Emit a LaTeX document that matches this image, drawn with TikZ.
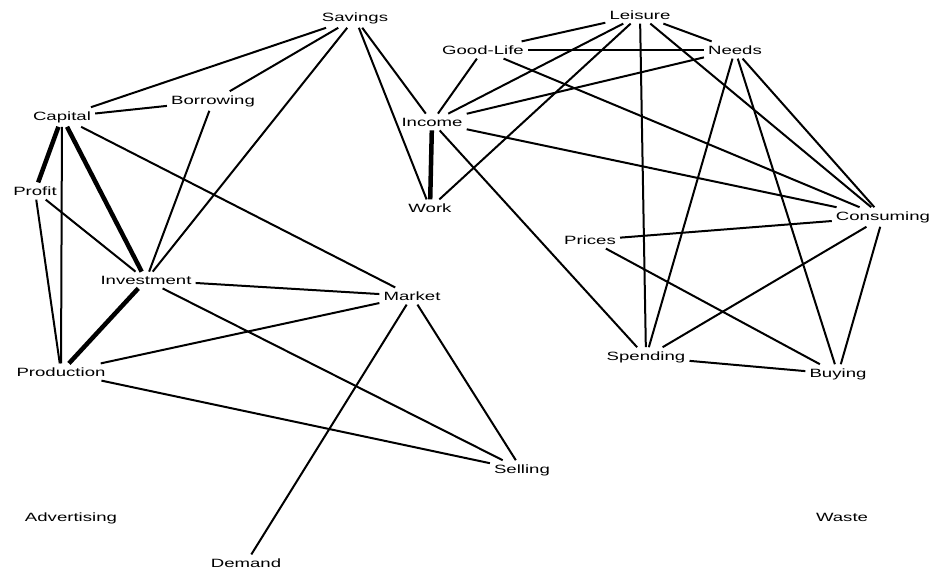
\documentclass[tikz,border=0pt]{standalone}
\usepackage{fontspec}
\setmainfont{Liberation Sans}[FakeStretch=1.55]

\begin{document}
\begin{tikzpicture}[x=1pt, y=-1pt,
	word/.style={font=\fontsize{12}{14}\selectfont, inner sep=4pt},
	link/.style={line width=2pt},
	heavy/.style={line width=4.5pt}]
	\useasboundingbox (0,0) rectangle (931,571);
	
	\node[word] (savings) at (355,18) {Savings};
	\node[word] (borrowing) at (213,101) {Borrowing};
	\node[word] (capital) at (62,117) {Capital};
	\node[word] (profit) at (35,191) {Profit};
	\node[word] (investment) at (146,280) {Investment};
	\node[word] (market) at (412,296) {Market};
	\node[word] (production) at (61,372) {Production};
	\node[word] (selling) at (522,470) {Selling};
	\node[word] (advertising) at (71,518) {Advertising};
	\node[word] (demand) at (246,563) {Demand};
	
	\node[word] (leisure) at (640,15) {Leisure};
	\node[word] (goodlife) at (483,50) {Good-Life};
	\node[word] (needs) at (735,50) {Needs};
	\node[word] (income) at (432,122) {Income};
	\node[word] (work) at (430,208) {Work};
	\node[word] (consuming) at (883,217) {Consuming};
	\node[word] (prices) at (590,240) {Prices};
	\node[word] (spending) at (646,357) {Spending};
	\node[word] (buying) at (838,374) {Buying};
	\node[word] (waste) at (842,517) {Waste};
	
	\draw[link] (savings) -- (capital);
	\draw[link] (savings) -- (borrowing);
	\draw[link] (savings) -- (investment);
	\draw[link] (savings) -- (work);
	\draw[link] (savings) -- (income);
	\draw[link] (capital) -- (borrowing);
	\draw[link] (capital) -- (production);
	\draw[link] (capital) -- (market);
	\draw[link] (borrowing) -- (investment);
	\draw[link] (profit) -- (investment);
	\draw[link] (profit) -- (production);
	\draw[link] (investment) -- (market);
	\draw[link] (investment) -- (selling);
	\draw[link] (production) -- (market);
	\draw[link] (production) -- (selling);
	\draw[link] (market) -- (demand);
	\draw[link] (market) -- (selling);
	
	\draw[heavy] (capital) -- (profit);
	\draw[heavy] (capital) -- (investment);
	\draw[heavy] (investment) -- (production);
	\draw[heavy] (income) -- (work);
	
	\draw[link] (leisure) -- (goodlife);
	\draw[link] (leisure) -- (income);
	\draw[link] (leisure) -- (work);
	\draw[link] (leisure) -- (spending);
	\draw[link] (leisure) -- (consuming);
	\draw[link] (leisure) -- (needs);
	\draw[link] (goodlife) -- (needs);
	\draw[link] (goodlife) -- (income);
	\draw[link] (goodlife) -- (consuming);
	\draw[link] (needs) -- (income);
	\draw[link] (needs) -- (spending);
	\draw[link] (needs) -- (buying);
	\draw[link] (needs) -- (consuming);
	\draw[link] (income) -- (consuming);
	\draw[link] (income) -- (spending);
	\draw[link] (consuming) -- (prices);
	\draw[link] (consuming) -- (spending);
	\draw[link] (consuming) -- (buying);
	\draw[link] (prices) -- (buying);
	\draw[link] (spending) -- (buying);
\end{tikzpicture}
\end{document}
